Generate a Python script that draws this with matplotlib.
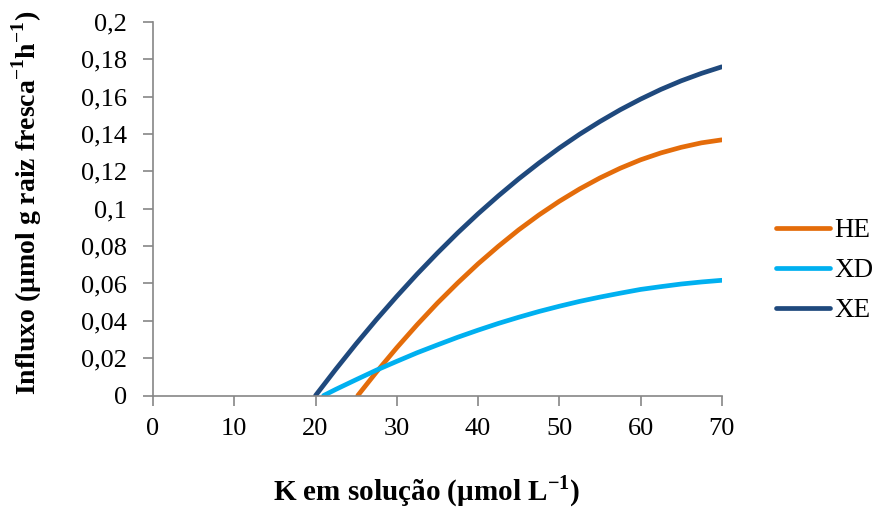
import matplotlib
matplotlib.use("Agg")
import matplotlib.pyplot as plt
from matplotlib.ticker import FuncFormatter, MultipleLocator

plt.rcParams['font.family'] = ['Liberation Serif', 'DejaVu Serif']
plt.rcParams['mathtext.fontset'] = 'custom'
plt.rcParams['mathtext.rm'] = 'Liberation Serif'
plt.rcParams['mathtext.bf'] = 'Liberation Serif:bold'

# influx curves per genotype (K concentration, influx)
he_x = [25.2, 27.5, 30, 32.5, 35, 37.5, 40, 42.5, 45, 47.5, 50,
        52.5, 55, 57.5, 60, 62.5, 65, 67.5, 70]
he_y = [0, 0.0126, 0.0256, 0.0379, 0.0495, 0.0603, 0.0705, 0.0799, 0.0887, 0.0967, 0.1040,
        0.1106, 0.1165, 0.1217, 0.1262, 0.1299, 0.1329, 0.1353, 0.1369]

xd_x = [21, 22.5, 25, 27.5, 30, 32.5, 35, 37.5, 40, 42.5, 45, 47.5, 50,
        52.5, 55, 57.5, 60, 62.5, 65, 67.5, 70]
xd_y = [0, 0.0033, 0.0085, 0.0136, 0.0183, 0.0229, 0.0271, 0.0312, 0.0350, 0.0386, 0.0419, 0.0450, 0.0478,
        0.0504, 0.0527, 0.0548, 0.0568, 0.0583, 0.0597, 0.0608, 0.0617]

xe_x = [20, 22.5, 25, 27.5, 30, 32.5, 35, 37.5, 40, 42.5, 45, 47.5, 50,
        52.5, 55, 57.5, 60, 62.5, 65, 67.5, 70]
xe_y = [0, 0.0141, 0.0277, 0.0407, 0.0531, 0.0650, 0.0763, 0.0871, 0.0973, 0.1069, 0.1160, 0.1245, 0.1325,
        0.1399, 0.1467, 0.1530, 0.1587, 0.1639, 0.1685, 0.1725, 0.1760]

fig = plt.figure(figsize=(8.77, 5.12), dpi=100)
ax = fig.add_axes([0.1745, 0.2275, 0.6485, 0.7295])

ax.plot(he_x, he_y, color='#E46C0A', lw=3.4, label='HE', solid_capstyle='round')
ax.plot(xd_x, xd_y, color='#00B0F0', lw=3.4, label='XD', solid_capstyle='round')
ax.plot(xe_x, xe_y, color='#1F497D', lw=3.4, label='XE', solid_capstyle='round')

ax.set_xlim(0, 70)
ax.set_ylim(0, 0.2)
ax.xaxis.set_major_locator(MultipleLocator(10))
ax.yaxis.set_major_locator(MultipleLocator(0.02))
ax.yaxis.set_major_formatter(FuncFormatter(lambda v, p: f"{round(v, 2):g}".replace('.', ',')))

for s in ['top', 'right']:
    ax.spines[s].set_visible(False)
for s in ['left', 'bottom']:
    ax.spines[s].set_color('#868686')
    ax.spines[s].set_linewidth(1.2)
ax.tick_params(axis='both', colors='#868686', labelcolor='black', labelsize=19,
               length=7, width=1.2, direction='out')
ax.tick_params(axis='x', pad=9)
ax.tick_params(axis='y', pad=12)

fig.text(0.486, 0.024, r'K em solução (µmol L$^{\mathbf{-1}}$)', ha='center', va='baseline',
         fontsize=21, fontweight='bold')
fig.text(0.031, 0.603, r'Influxo (µmol g raiz fresca$^{\mathbf{-1}}$h$^{\mathbf{-1}}$)',
         rotation=90, ha='center', va='center', fontsize=20, fontweight='bold')

leg = fig.legend(loc='center left', bbox_to_anchor=(0.885, 0.471), frameon=False,
                 fontsize=19.5, handlelength=2.0, handletextpad=0.15, labelspacing=0.55,
                 borderpad=0, borderaxespad=0)

fig.savefig('out.png', dpi=100)
